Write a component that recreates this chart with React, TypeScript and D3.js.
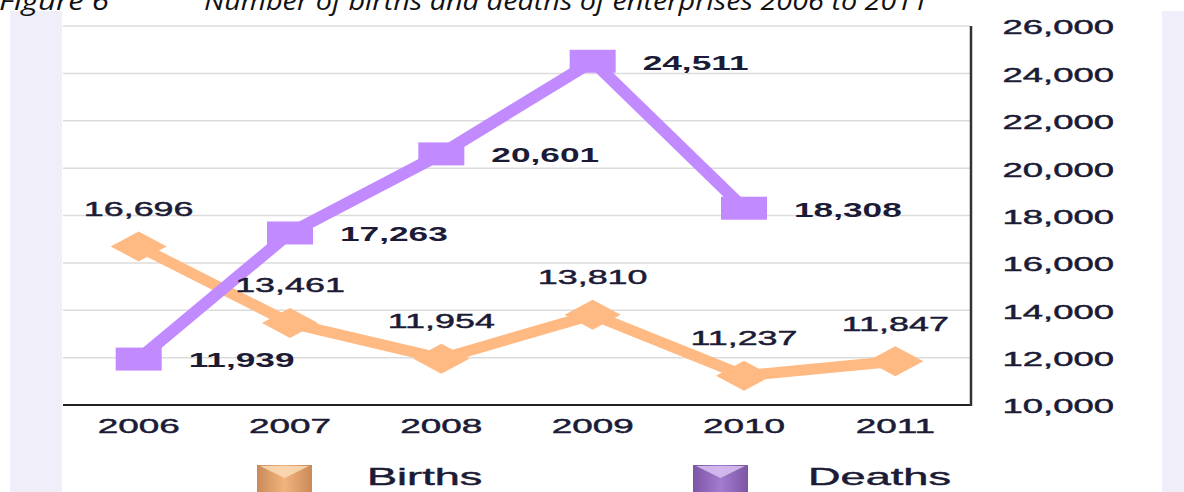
import React, { useEffect, useRef } from "react";
import * as d3 from "d3";

// data
const years = ["2006", "2007", "2008", "2009", "2010", "2011"];
const births = [16696, 13461, 11954, 13810, 11237, 11847];
const deaths: (number | null)[] = [11939, 17263, 20601, 24511, 18308, null];
const yTicks = [10000, 12000, 14000, 16000, 18000, 20000, 22000, 24000, 26000];

const W = 1184;
const H = 492;
const birthColor = "#ffb982";
const deathColor = "#c28aff";
const textColor = "#1b1b36";
const font = "'Liberation Sans', Arial, sans-serif";

const App = () => {
  const svgRef = useRef<SVGSVGElement | null>(null);

  useEffect(() => {
    const svg = d3.select(svgRef.current);
    svg.selectAll("*").remove();

    const x = d3.scaleBand<string>().domain(years).range([63, 971]);
    const cx = (d: string) => (x(d) as number) + x.bandwidth() / 2;
    const y = d3.scaleLinear().domain([10000, 26000]).range([405, 26]);
    const fmt = d3.format(",");

    // stretched text like the original picture
    const txt = (
      g: any,
      tx: number,
      ty: number,
      s: string,
      size: number,
      sx: number,
      anchor: string,
      weight = "normal",
      dy = "0.36em"
    ) =>
      g
        .append("text")
        .attr("transform", `translate(${tx},${ty}) scale(${sx},1)`)
        .attr("text-anchor", anchor)
        .attr("dy", dy)
        .attr("font-family", font)
        .attr("font-size", size)
        .attr("font-weight", weight)
        .attr("fill", textColor)
        .attr("stroke", weight === "normal" ? textColor : "none")
        .attr("stroke-width", 0.45)
        .text(s);

    // side panels
    svg.append("rect").attr("x", 10).attr("y", 11).attr("width", 52).attr("height", H - 11).attr("fill", "#f0eef8");
    svg.append("rect").attr("x", 1162).attr("y", 11).attr("width", 22).attr("height", H - 11).attr("fill", "#f0eef8");

    // title (cut off at the top)
    const title = svg.append("g").attr("font-family", "'Open Sans', sans-serif").attr("font-style", "italic").attr("font-size", 25).attr("fill", "#111");
    title.append("text").attr("x", -1).attr("y", 10).attr("textLength", 110).attr("lengthAdjust", "spacingAndGlyphs").text("Figure 6");
    title
      .append("text")
      .attr("x", 204)
      .attr("y", 10)
      .attr("textLength", 724)
      .attr("lengthAdjust", "spacingAndGlyphs")
      .text("Number of births and deaths of enterprises 2006 to 2011");

    // grid
    svg
      .append("g")
      .selectAll("line")
      .data(yTicks.slice(1))
      .join("line")
      .attr("x1", 63)
      .attr("x2", 970)
      .attr("y1", (d) => y(d))
      .attr("y2", (d) => y(d))
      .attr("stroke", "#dcdcdc")
      .attr("stroke-width", 1.5);

    // axes lines
    svg.append("line").attr("x1", 63).attr("x2", 972).attr("y1", y(10000)).attr("y2", y(10000)).attr("stroke", "#222").attr("stroke-width", 2);
    svg.append("line").attr("x1", 971).attr("x2", 971).attr("y1", y(26000)).attr("y2", y(10000) + 1).attr("stroke", "#333").attr("stroke-width", 2.5);

    // y tick labels
    const yl = svg.append("g");
    yTicks.forEach((t) => txt(yl, 1114, y(t) + 1, fmt(t), 20.5, 1.78, "end"));

    // x labels
    const xl = svg.append("g");
    years.forEach((d) => txt(xl, cx(d), 426, d, 20.5, 1.8, "middle"));

    // births
    const bLine = d3
      .line<number>()
      .x((_, i) => cx(years[i]))
      .y((d) => y(d));
    svg.append("path").attr("d", bLine(births)).attr("fill", "none").attr("stroke", birthColor).attr("stroke-width", 11).attr("stroke-linejoin", "round");
    svg
      .append("g")
      .selectAll("path")
      .data(births)
      .join("path")
      .attr("d", (d, i) => {
        const px = cx(years[i]);
        const py = y(d);
        return `M${px - 28},${py}L${px},${py - 15}L${px + 28},${py}L${px},${py + 15}Z`;
      })
      .attr("fill", birthColor);

    // deaths
    const dLine = d3
      .line<number | null>()
      .defined((d) => d != null)
      .x((_, i) => cx(years[i]))
      .y((d) => y(d as number));
    svg.append("path").attr("d", dLine(deaths)).attr("fill", "none").attr("stroke", deathColor).attr("stroke-width", 12).attr("stroke-linejoin", "round");
    svg
      .append("g")
      .selectAll("rect")
      .data(deaths.map((v, i) => ({ v, k: years[i] })).filter((d) => d.v != null))
      .join("rect")
      .attr("x", (d) => cx(d.k) - 23)
      .attr("y", (d) => y(d.v as number) - 11.5)
      .attr("width", 46)
      .attr("height", 23)
      .attr("fill", deathColor);

    // value labels
    const lb = svg.append("g");
    births.forEach((v, i) => txt(lb, cx(years[i]), y(v) - 38, fmt(v), 20.5, 1.75, "middle"));
    deaths.forEach((v, i) => {
      if (v != null) txt(lb, cx(years[i]) + 50, y(v) + 1, fmt(v), 20.5, 1.72, "start", "bold");
    });

    // legend
    const defs = svg.append("defs");
    const grad = (id: string, edge: string, mid: string) => {
      const g = defs.append("linearGradient").attr("id", id).attr("x1", 0).attr("x2", 1).attr("y1", 0).attr("y2", 0);
      g.append("stop").attr("offset", "0%").attr("stop-color", edge);
      g.append("stop").attr("offset", "50%").attr("stop-color", mid);
      g.append("stop").attr("offset", "100%").attr("stop-color", edge);
    };
    grad("gb", "#c98a58", "#f2b47e");
    grad("gd", "#7c55a6", "#a47ccf");
    const legendItems = [
      { name: "Births", sx: 257, tx: 367, fill: "url(#gb)", chev: "#fbdcb8" },
      { name: "Deaths", sx: 693, tx: 808, fill: "url(#gd)", chev: "#d9c2f0" },
    ];
    const lg = svg.append("g");
    legendItems.forEach((it) => {
      lg.append("rect").attr("x", it.sx).attr("y", 465).attr("width", 55).attr("height", 30).attr("fill", it.fill);
      lg.append("path")
        .attr("d", `M${it.sx + 3},466L${it.sx + 27.5},478L${it.sx + 52},466Z`)
        .attr("fill", it.chev)
        .attr("opacity", 0.85);
      txt(lg, it.tx, 485, it.name, 23.5, 1.92, "start", "normal", "0");
    });
  }, []);

  return <svg ref={svgRef} width={W} height={H} style={{ position: "absolute", left: 0, top: 0, background: "#fff" }} />;
};

export default App;
